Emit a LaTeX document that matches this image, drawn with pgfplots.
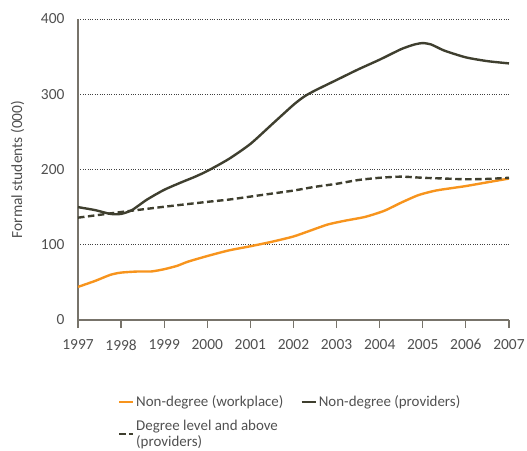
\documentclass[border=0pt]{standalone}
\usepackage{pgfplots}
\pgfplotsset{compat=1.18}
\usepackage{fontspec}
\setmainfont{Carlito}
\definecolor{dk}{HTML}{3F3F2F}
\definecolor{orng}{HTML}{F7941D}
\definecolor{axc}{HTML}{77736A}
\definecolor{txt}{HTML}{505050}
\begin{document}
\begin{tikzpicture}
\useasboundingbox (-78bp,-131bp) rectangle (449bp,320bp);
\begin{axis}[
  scale only axis,
  width=431bp, height=301bp,
  xmin=1997, xmax=2007, ymin=0, ymax=400,
  xtick={1997,...,2007},
  ytick={0,100,200,300,400},
  xticklabel style={/pgf/number format/1000 sep={}},
  /pgf/number format/assume math mode=true,
  axis x line*=bottom, axis y line*=left,
  axis line style={axc, line width=1.2pt, -},
  x tick style={axc, line width=1.2pt},
  xtick align=outside,
  major tick length=8bp,
  y tick style={draw=none},
  ymajorgrids,
  grid style={dotted, black!75, line width=0.6pt},
  tick label style={font=\fontsize{15.5}{17}\selectfont, text=txt},
  xticklabel style={yshift=-8bp},
  yticklabel style={xshift=-10bp},
  ylabel={Formal students (000)},
  ylabel style={font=\fontsize{15.5}{17}\selectfont, text=txt, yshift=10bp},
  legend columns=2,
  legend cell align=left,
  legend style={draw=none, fill=none, at={(0.085,-0.237)}, anchor=north west,
    font=\fontsize{15}{16.5}\selectfont, text=txt,
    nodes={align=left},
    /tikz/every even column/.append style={column sep=15bp},
    row sep=8bp},
  legend image code/.code={\draw[#1] (0bp,0bp) -- (14bp,0bp);},
]
\addplot[orng, line width=2.4pt, smooth, tension=0.4] coordinates {
(1997.0,44) (1997.4,52) (1997.75,60) (1998.0,63) (1998.4,64.5) (1998.7,64.5)
(1999.0,67.5) (1999.3,72) (1999.55,77.5) (2000.0,85) (2000.5,92.5) (2001.0,98)
(2001.5,104) (2002.0,111) (2002.4,119) (2002.8,127) (2003.2,132) (2003.66,137)
(2004.1,145) (2004.5,156) (2004.9,166) (2005.3,172) (2005.7,175.5) (2006.0,178)
(2006.5,183) (2007.0,188)};
\addlegendentry{Non-degree (workplace)}
\addplot[dk, line width=2.4pt, smooth, tension=0.4] coordinates {
(1997.0,150) (1997.4,146) (1997.75,141) (1998.0,141) (1998.25,146) (1998.6,160)
(1999.0,173) (1999.4,183) (1999.7,190) (2000.0,198) (2000.5,214) (2001.0,234)
(2001.5,260) (2002.0,286) (2002.25,297) (2002.5,305) (2003.0,319) (2003.5,333)
(2004.0,346) (2004.5,360) (2004.8,366) (2005.0,368) (2005.2,366) (2005.5,358)
(2006.0,349) (2006.5,344) (2007.0,341)};
\addlegendentry{Non-degree (providers)}
\addplot[dk, line width=2.4pt, dash pattern=on 6.5bp off 3.5bp, smooth, tension=0.4] coordinates {
(1997.0,136) (1998.0,143.5) (1999.0,150.5) (2000.0,157) (2000.5,160) (2001.0,164)
(2001.5,168) (2002.0,172) (2002.5,177) (2003.0,181) (2003.5,186) (2004.0,189)
(2004.5,190.5) (2005.0,189) (2005.5,188) (2006.0,187) (2006.5,187.5) (2007.0,189)};
\addlegendentry{Degree level and above\\(providers)}
\end{axis}
\end{tikzpicture}
\end{document}
